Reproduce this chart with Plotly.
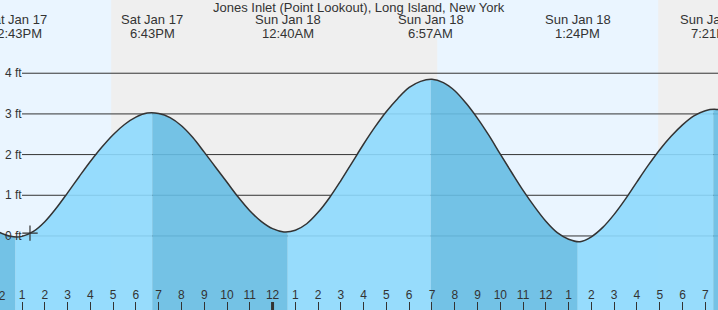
import plotly.graph_objects as go
import pandas as pd

title = "Jones Inlet (Point Lookout), Long Island, New York"

# High / low tide events
event_times = ["2026-01-17 12:43", "2026-01-17 18:43", "2026-01-18 00:40",
               "2026-01-18 06:57", "2026-01-18 13:24", "2026-01-18 19:21"]
event_heights = [-0.02, 3.03, 0.09, 3.85, -0.14, 3.11]
event_dates = ["Sat Jan 17", "Sat Jan 17", "Sun Jan 18", "Sun Jan 18", "Sun Jan 18", "Sun Jan 18"]
event_clock = ["12:43PM", "6:43PM", "12:40AM", "6:57AM", "1:24PM", "7:21PM"]

# Half-hourly water level readings (ft) from 12:00 PM Jan 17
reading_start = "2026-01-17 12:00"
reading_heights = [
    0.09, -0.01, -0.01, 0.11, 0.35, 0.68, 1.06, 1.45, 1.83, 2.18, 2.49, 2.74, 2.92, 3.02,
    3.01, 2.91, 2.71, 2.42, 2.06, 1.69, 1.32, 0.95, 0.62, 0.36, 0.18, 0.10,
    0.14, 0.30, 0.58, 0.94, 1.36, 1.81, 2.26, 2.68, 3.06, 3.38, 3.65, 3.80,
    3.85, 3.77, 3.57, 3.26, 2.89, 2.47, 2.01, 1.56, 1.12, 0.72, 0.36, 0.08, -0.08,
    -0.14, -0.02, 0.21, 0.53, 0.91, 1.33, 1.74, 2.12, 2.45, 2.73, 2.95, 3.08, 3.11, 3.03]
reading_times = list(pd.date_range(reading_start, periods=len(reading_heights), freq="30min"))

# Sun times (night bands)
sunsets = ["2026-01-17 16:55", "2026-01-18 16:56"]
sunrises = ["2026-01-18 07:14", "2026-01-18 20:00"]

# Axis
x_start = "2026-01-17 12:02"
x_end = "2026-01-18 19:33:30"
hour_ticks = list(pd.date_range("2026-01-17 13:00", "2026-01-18 19:00", freq="h"))
hour_text = [str((t.hour % 12) or 12) for t in hour_ticks]
y_levels = [0, 1, 2, 3, 4]
y_range = [-1.82, 5.80]

FONT = "Liberation Sans, Arial, sans-serif"
TXT = "#333333"
DAY = "#EAF5FF"
NIGHT = "#EFEFEF"
LIGHT = "rgba(141,217,253,0.9)"
DARK = "rgba(102,188,227,0.9)"

df = pd.DataFrame({"t": pd.to_datetime(reading_times + list(pd.to_datetime(event_times))),
                   "h": reading_heights + event_heights}).sort_values("t").reset_index(drop=True)
ev = list(pd.to_datetime(event_times))
bounds = [df.t.min()] + ev + [df.t.max()]

fig = go.Figure()
for i in range(len(bounds) - 1):
    b0, b1 = bounds[i], bounds[i + 1]
    seg = df[(df.t >= b0) & (df.t <= b1)]
    rising = seg.h.iloc[-1] > seg.h.iloc[0]
    fig.add_trace(go.Scatter(x=[b0, b1], y=[-2.5, -2.5], mode="lines",
                             line=dict(width=0), showlegend=False, hoverinfo="skip"))
    fig.add_trace(go.Scatter(x=seg.t, y=seg.h, mode="lines",
                             line=dict(width=0), fill="tonexty",
                             fillcolor=LIGHT if rising else DARK,
                             showlegend=False, hoverinfo="skip"))

fig.add_trace(go.Scatter(x=reading_times, y=reading_heights, mode="lines",
                         line=dict(color=TXT, width=1.5, shape="spline", smoothing=1),
                         showlegend=False, hoverinfo="skip"))
fig.add_trace(go.Scatter(x=["2026-01-17 13:21"], y=[0.07], mode="markers",
                         marker=dict(symbol="cross-thin", size=11,
                                     line=dict(color=TXT, width=1.2)),
                         showlegend=False, hoverinfo="skip"))

shapes = []
for s0, s1 in zip(sunsets, sunrises):
    shapes.append(dict(type="rect", xref="x", yref="paper", x0=s0, x1=s1, y0=0, y1=1,
                       fillcolor=NIGHT, line=dict(width=0), layer="below"))
for v in y_levels:
    shapes.append(dict(type="line", xref="paper", yref="y", x0=22 / 718, x1=1, y0=v, y1=v,
                       line=dict(color=TXT, width=1), layer="below"))
shapes.append(dict(type="line", xref="x", yref="paper", x0="2026-01-18 00:00",
                   x1="2026-01-18 00:00", y0=0, y1=8 / 310,
                   line=dict(color=TXT, width=3), layer="above"))

ann = [dict(text=title, xref="paper", yref="paper", x=0.5, y=1 - 7 / 310,
            xanchor="center", yanchor="middle", showarrow=False,
            font=dict(family=FONT, size=13, color=TXT))]
for t, d, c in zip(event_times, event_dates, event_clock):
    ann.append(dict(text=d, xref="x", yref="paper", x=t, y=1 - 20 / 310,
                    xanchor="center", yanchor="middle", showarrow=False,
                    font=dict(family=FONT, size=13, color=TXT)))
    ann.append(dict(text=c, xref="x", yref="paper", x=t, y=1 - 33 / 310,
                    xanchor="center", yanchor="middle", showarrow=False,
                    font=dict(family=FONT, size=13, color=TXT)))
for v in y_levels:
    ann.append(dict(text=f"{v} ft", xref="paper", yref="y", x=3 / 718, y=v,
                    xanchor="left", yanchor="middle", showarrow=False,
                    font=dict(family=FONT, size=12, color=TXT)))
# partially visible noon label at the left edge
ann.append(dict(text="12", xref="paper", yref="paper", x=-0.8 / 718, y=14 / 310,
                xanchor="center", yanchor="middle", showarrow=False,
                font=dict(family=FONT, size=12, color=TXT)))

fig.update_layout(
    width=718, height=310, margin=dict(l=0, r=0, t=0, b=0),
    plot_bgcolor=DAY, paper_bgcolor=DAY,
    shapes=shapes, annotations=ann,
    xaxis=dict(type="date", range=[x_start, x_end], tickvals=hour_ticks, ticktext=hour_text,
               ticks="inside", ticklen=8, tickwidth=1, tickcolor=TXT,
               ticklabelposition="inside", showgrid=False, zeroline=False, showline=False,
               tickfont=dict(family=FONT, size=12, color=TXT), fixedrange=True),
    yaxis=dict(range=y_range, visible=False, fixedrange=True),
)

fig.write_html("out.html")
